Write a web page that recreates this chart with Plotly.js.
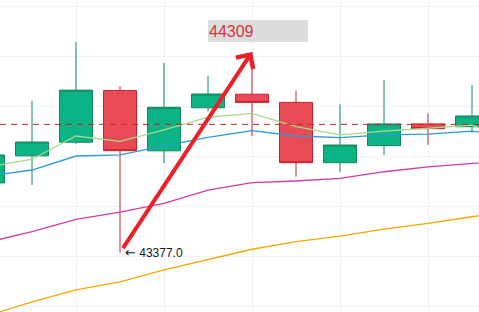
<!DOCTYPE html>
<html>
<head>
<meta charset="utf-8">
<script src="https://cdn.plot.ly/plotly-3.0.1.min.js"></script>
<style>html,body{margin:0;padding:0;background:#fff;}#chart{width:479px;height:312px;}</style>
</head>
<body>
<div id="chart"></div>
<script>
// Bar index (time slot) of each candle
const idx   = [0, 1, 2, 3, 4, 5, 6, 7, 8, 9, 10, 11];
const open  = [43701, 43827, 43890, 44130, 43850, 44050, 44113, 44075, 43795, 43874, 43975, 43962];
const high  = [43863, 44083, 44355, 44151, 44258, 44198, 44309, 44129, 44066, 44179, 44024, 44156];
const low   = [43668, 43691, 43882, 43377, 43793, 44033, 43919, 43730, 43752, 43831, 43878, 43934];
const close = [43831, 43891, 44132, 43851, 44052, 44114, 44075, 43795, 43877, 43975, 43953, 44012];

// Moving averages (one value per slot, incl. the next slot off-screen)
const maIdx    = [0, 1, 2, 3, 4, 5, 6, 7, 8, 9, 10, 11, 12];
const maShort  = [43775, 43811, 43919, 43894, 43947, 44006, 44024, 43962, 43924, 43942, 43955, 43969, 43900];
const maMid    = [43733, 43761, 43826, 43831, 43873, 43913, 43944, 43919, 43911, 43924, 43928, 43942, 43910];
const maLong   = [43426, 43475, 43532, 43565, 43606, 43668, 43702, 43710, 43722, 43753, 43776, 43792, 43808];
const maLonger = [43085, 43149, 43204, 43242, 43297, 43346, 43393, 43428, 43454, 43486, 43513, 43544, 43573];

const lastPrice = 43973;
const lowLabelArrow = "←";
const lowLabelValue = "43377.0";
const highLabel = "44309";
const arrowFrom = 3;  // candle with the low
const arrowTo = 6;    // candle with the high

const traces = [
  {type:'scatter', mode:'lines', x:maIdx, y:maLonger, line:{color:'#f2a900', width:1.3}, hoverinfo:'skip'},
  {type:'scatter', mode:'lines', x:maIdx, y:maLong, line:{color:'#d13ba3', width:1.3}, hoverinfo:'skip'},
  {type:'scatter', mode:'lines', x:maIdx, y:maMid, line:{color:'#2e9bd3', width:1.3}, hoverinfo:'skip'},
  {type:'scatter', mode:'lines', x:maIdx, y:maShort, line:{color:'#a9d98a', width:1.3}, hoverinfo:'skip'},
  {type:'candlestick', x:idx, open:open, high:high, low:low, close:close,
   increasing:{line:{color:'#17875c', width:1}, fillcolor:'#0bb385'},
   decreasing:{line:{color:'#c8232e', width:1}, fillcolor:'#e94b56'},
   whiskerwidth:0, hoverinfo:'skip'}
];

const yTop = 44550.5, yBot = 43101.6;
const gridStep = (yTop - yBot) / 312 * 50;

const layout = {
  width:479, height:312,
  margin:{l:0, r:0, t:0, b:0, pad:0},
  paper_bgcolor:'#ffffff', plot_bgcolor:'#ffffff',
  showlegend:false,
  boxgap:0.25, boxgroupgap:0,
  xaxis:{range:[12/44, 491/44], showticklabels:false, ticks:'', zeroline:false,
         showgrid:true, gridcolor:'#eef2f7', gridwidth:1, tick0:0, dtick:2,
         rangeslider:{visible:false}, fixedrange:true},
  yaxis:{range:[yBot, yTop], showticklabels:false, ticks:'', zeroline:false,
         showgrid:true, gridcolor:'#eef2f7', gridwidth:1,
         tick0: yTop - gridStep*6/50, dtick:gridStep, fixedrange:true},
  shapes:[
    {type:'line', xref:'paper', x0:0, x1:1, yref:'y', y0:lastPrice, y1:lastPrice,
     line:{color:'#c0282a', width:1, dash:'6px,5px'}}
  ],
  annotations:[
    {x:arrowTo, y:high[arrowTo], xref:'x', yref:'y', ax:arrowFrom, ay:low[arrowFrom], axref:'x', ayref:'y',
     text:' ', showarrow:true, arrowhead:4, arrowsize:1, arrowwidth:4, arrowcolor:'#ec2027',
     standoff:0, startstandoff:0},
    {x:arrowFrom, y:low[arrowFrom], xref:'x', yref:'y',
     text:'<span style="font-family:DejaVu Sans;font-size:13px">' + lowLabelArrow + '</span> ' + lowLabelValue,
     showarrow:false, xanchor:'left', yanchor:'middle', xshift:3,
     font:{family:'Liberation Sans, Arial, sans-serif', size:12, color:'#131722'}},
    {x:208/479, y:1-20/312, xref:'paper', yref:'paper', text:highLabel, showarrow:false,
     xanchor:'left', yanchor:'top', align:'left', width:98, height:20, borderpad:1,
     bgcolor:'#dcdcdc', borderwidth:0,
     font:{family:'Liberation Sans, Arial, sans-serif', size:16, color:'#d8343a'}}
  ]
};

Plotly.newPlot('chart', traces, layout, {displayModeBar:false, staticPlot:true});
</script>
</body>
</html>
